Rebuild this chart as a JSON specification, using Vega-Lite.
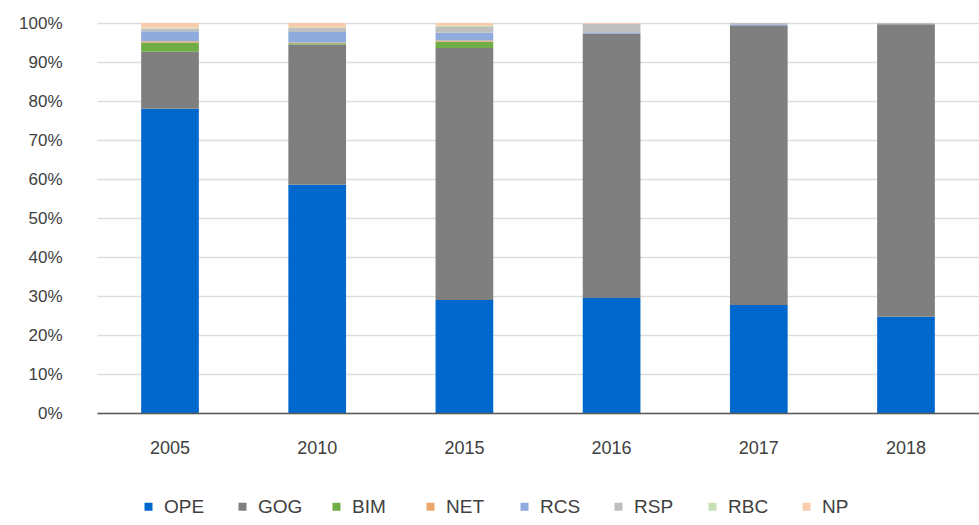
{
  "$schema": "https://vega.github.io/schema/vega-lite/v6.json",
  "autosize": {"type": "none"},
  "padding": {"left": 97, "top": 23, "right": 0, "bottom": 112},
  "width": 882,
  "height": 390,
  "background": "white",
  "config": {
    "view": {"stroke": null},
    "font": "Liberation Sans, Arial, sans-serif"
  },
  "data": {
    "values": [
      {"year": "2005", "cat": "OPE", "o": 1, "v": 78.0},
      {"year": "2005", "cat": "GOG", "o": 2, "v": 14.6},
      {"year": "2005", "cat": "BIM", "o": 3, "v": 2.4},
      {"year": "2005", "cat": "NET", "o": 4, "v": 0.3},
      {"year": "2005", "cat": "RCS", "o": 5, "v": 2.6},
      {"year": "2005", "cat": "RSP", "o": 6, "v": 0.6},
      {"year": "2005", "cat": "RBC", "o": 7, "v": 0.3},
      {"year": "2005", "cat": "NP", "o": 8, "v": 1.2},
      {"year": "2010", "cat": "OPE", "o": 1, "v": 58.5},
      {"year": "2010", "cat": "GOG", "o": 2, "v": 36.0},
      {"year": "2010", "cat": "BIM", "o": 3, "v": 0.3},
      {"year": "2010", "cat": "NET", "o": 4, "v": 0.2},
      {"year": "2010", "cat": "RCS", "o": 5, "v": 2.7},
      {"year": "2010", "cat": "RSP", "o": 6, "v": 1.0},
      {"year": "2010", "cat": "RBC", "o": 7, "v": 0.2},
      {"year": "2010", "cat": "NP", "o": 8, "v": 1.1},
      {"year": "2015", "cat": "OPE", "o": 1, "v": 29.0},
      {"year": "2015", "cat": "GOG", "o": 2, "v": 64.6},
      {"year": "2015", "cat": "BIM", "o": 3, "v": 1.6},
      {"year": "2015", "cat": "NET", "o": 4, "v": 0.3},
      {"year": "2015", "cat": "RCS", "o": 5, "v": 2.0},
      {"year": "2015", "cat": "RSP", "o": 6, "v": 1.5},
      {"year": "2015", "cat": "RBC", "o": 7, "v": 0.3},
      {"year": "2015", "cat": "NP", "o": 8, "v": 0.7},
      {"year": "2016", "cat": "OPE", "o": 1, "v": 29.5},
      {"year": "2016", "cat": "GOG", "o": 2, "v": 67.8},
      {"year": "2016", "cat": "RCS", "o": 5, "v": 0.3},
      {"year": "2016", "cat": "RSP", "o": 6, "v": 2.2},
      {"year": "2016", "cat": "NP", "o": 8, "v": 0.2},
      {"year": "2017", "cat": "OPE", "o": 1, "v": 27.7},
      {"year": "2017", "cat": "GOG", "o": 2, "v": 71.5},
      {"year": "2017", "cat": "RCS", "o": 5, "v": 0.3},
      {"year": "2017", "cat": "RSP", "o": 6, "v": 0.5},
      {"year": "2018", "cat": "OPE", "o": 1, "v": 24.7},
      {"year": "2018", "cat": "GOG", "o": 2, "v": 75.0},
      {"year": "2018", "cat": "RSP", "o": 6, "v": 0.3}
    ]
  },
  "mark": {"type": "bar"},
  "encoding": {
    "x": {
      "field": "year",
      "type": "nominal",
      "scale": {"paddingInner": 0.608, "paddingOuter": 0.3},
      "axis": {
        "title": null,
        "labelAngle": 0,
        "labelFontSize": 18,
        "labelColor": "#404040",
        "labelPadding": 26,
        "ticks": false,
        "domainColor": "#595959",
        "domainWidth": 1.5,
        "zindex": 2
      }
    },
    "y": {
      "field": "v",
      "type": "quantitative",
      "stack": "normalize",
      "scale": {"domain": [0, 1]},
      "axis": {
        "title": null,
        "format": ".0%",
        "values": [0, 0.1, 0.2, 0.3, 0.4, 0.5, 0.6, 0.7, 0.8, 0.9, 1],
        "labelOverlap": false,
        "labelFontSize": 17,
        "labelColor": "#404040",
        "labelPadding": 35,
        "ticks": false,
        "domain": false,
        "gridColor": "#DDDDDD",
        "gridWidth": 1.5,
        "zindex": 0
      }
    },
    "color": {
      "field": "cat",
      "type": "nominal",
      "scale": {
        "domain": ["OPE", "GOG", "BIM", "NET", "RCS", "RSP", "RBC", "NP"],
        "range": ["#0068CC", "#7F7F7F", "#70AD47", "#E9A868", "#8FAADC", "#BFBFBF", "#C5E0B4", "#F8CBAD"]
      },
      "legend": {
        "title": null,
        "orient": "none",
        "legendX": 42,
        "legendY": 474,
        "direction": "horizontal",
        "columns": 8,
        "gridAlign": "all",
        "columnPadding": 24,
        "symbolType": "square",
        "symbolSize": 64,
        "labelFontSize": 19,
        "labelColor": "#404040",
        "labelOffset": 6
      }
    },
    "order": {"field": "o", "type": "quantitative", "sort": "ascending"}
  }
}
